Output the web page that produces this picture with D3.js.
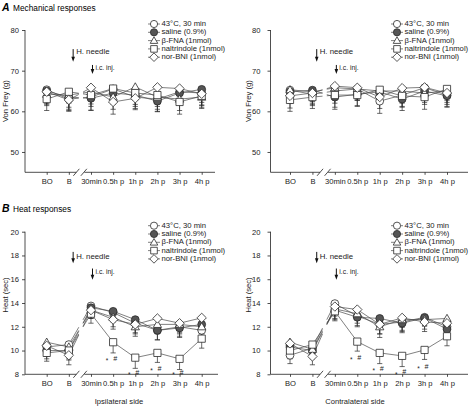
<!DOCTYPE html>
<html><head><meta charset="utf-8">
<script src="https://cdn.jsdelivr.net/npm/d3@7"></script>
<style>
html,body{margin:0;padding:0;background:#fff;}
svg{display:block;font-family:"Liberation Sans",Arial,sans-serif;}
</style></head>
<body>
<svg id="chart" width="469" height="406"></svg>
<script>
// ---------------- DATA ----------------
const categories = ["BO", "B", "30min", "0.5h p", "1h p", "2h p", "3h p", "4h p"];
const seriesNames = ["43°C, 30 min", "saline (0.9%)", "β-FNA (1nmol)", "naltrindole (1nmol)", "nor-BNI (1nmol)"];
const seriesSymbols = ["circle", "filledCircle", "triangle", "square", "diamond"];

// Mechanical responses, ipsilateral (Von Frey, g) – rows follow seriesNames
const mechIpsi = [
  [65.3, 63.0, 63.5, 65.5, 63.5, 63.0, 64.8, 64.5],
  [65.0, 63.5, 63.2, 64.5, 64.0, 62.5, 64.5, 65.4],
  [64.2, 64.0, 64.8, 63.5, 66.0, 63.5, 63.0, 63.5],
  [63.0, 64.8, 64.0, 65.6, 64.5, 64.0, 62.3, 63.8],
  [64.8, 62.8, 65.8, 62.3, 63.2, 65.9, 65.6, 64.3]
];
const mechIpsiErr = [
  [3.0, 2.8, 3.2, 3.0, 2.8, 3.0, 3.0, 3.0],
  [3.2, 3.0, 3.0, 2.8, 2.8, 2.6, 2.8, 3.2],
  [2.8, 3.0, 3.0, 3.0, 3.0, 3.0, 2.8, 2.8],
  [2.8, 2.8, 2.8, 3.0, 2.8, 2.8, 3.0, 2.8],
  [3.0, 2.8, 3.0, 3.0, 2.8, 3.0, 3.0, 2.8]
];
// Mechanical responses, contralateral
const mechContra = [
  [65.2, 64.2, 65.0, 65.5, 62.5, 64.0, 65.8, 64.0],
  [64.8, 65.2, 63.5, 64.2, 64.8, 63.0, 65.0, 63.8],
  [65.3, 64.8, 65.8, 65.5, 65.0, 65.0, 64.5, 65.0],
  [62.8, 63.5, 64.0, 64.0, 65.3, 63.8, 63.5, 65.5],
  [63.8, 64.5, 66.2, 65.8, 63.5, 65.7, 65.9, 64.5]
];
const mechContraErr = [
  [3.0, 2.8, 3.0, 2.8, 3.0, 2.8, 2.8, 2.8],
  [2.8, 2.8, 3.0, 2.8, 2.8, 2.8, 2.8, 2.8],
  [2.8, 2.8, 3.0, 2.8, 2.8, 3.0, 2.8, 2.8],
  [2.8, 2.8, 3.0, 2.8, 2.8, 2.8, 3.0, 2.8],
  [3.0, 2.8, 3.0, 2.8, 2.8, 3.0, 2.8, 2.8]
];
// Heat responses, ipsilateral (sec)
const heatIpsi = [
  [10.3, 10.5, 13.75, 13.2, 12.3, 11.7, 12.0, 11.7],
  [10.0, 10.0, 13.6, 13.3, 12.6, 11.7, 11.9, 12.2],
  [10.7, 10.3, 13.4, 12.8, 12.0, 12.2, 12.2, 12.0],
  [9.8, 10.0, 13.1, 10.7, 9.4, 9.8, 9.3, 11.0],
  [10.4, 9.6, 13.4, 12.6, 12.2, 12.7, 12.3, 12.75]
];
const heatIpsiErr = [
  [0.8, 0.7, 0.7, 0.8, 0.8, 0.8, 0.8, 0.7],
  [0.7, 0.7, 0.7, 0.8, 0.8, 0.8, 0.8, 0.7],
  [0.8, 0.8, 0.7, 0.8, 0.8, 0.8, 0.8, 0.7],
  [0.7, 0.8, 0.8, 0.9, 0.9, 0.8, 0.9, 0.8],
  [0.8, 0.8, 0.7, 0.8, 0.8, 0.8, 0.8, 0.7]
];
// Heat responses, contralateral
const heatContra = [
  [9.6, 10.2, 13.95, 12.9, 12.2, 12.4, 12.8, 12.0],
  [10.3, 10.0, 13.4, 12.8, 12.7, 12.3, 12.75, 11.8],
  [10.7, 10.1, 13.5, 13.1, 12.0, 12.6, 12.6, 12.7],
  [10.0, 10.5, 13.3, 10.75, 9.8, 9.55, 10.05, 11.2],
  [10.6, 9.5, 13.7, 13.45, 12.2, 12.75, 12.4, 12.3]
];
const heatContraErr = [
  [0.7, 0.7, 0.8, 0.8, 0.8, 0.8, 0.7, 0.7],
  [0.7, 0.7, 0.8, 0.8, 0.8, 0.8, 0.7, 0.7],
  [0.8, 0.7, 0.8, 0.8, 0.9, 0.9, 0.8, 0.8],
  [0.7, 0.8, 0.8, 0.8, 0.9, 0.9, 0.8, 0.8],
  [0.7, 0.7, 0.8, 0.8, 0.8, 0.8, 0.8, 0.8]
];
const mechTicks = [50, 60, 70, 80];
const heatTicks = [8, 10, 12, 14, 16, 18, 20];
// significance marks (* and #) for naltrindole vs saline
const sigCategories = ["0.5h p", "1h p", "2h p", "3h p"];
const sigIpsi = [9.15, 8.0, 8.35, 8.0];
const sigContra = [9.25, 8.3, 8.02, 8.5];

// ---------------- DRAW ----------------
const svg = d3.select("#chart");
const FONT = "Liberation Sans, Arial, sans-serif";
const LINE = "#4a4a4a", MARK = "#2a2a2a";

const panels = [
  {data: mechIpsi, err: mechIpsiErr, dom: [45, 80], ticks: mechTicks, ax: 25, axEnd: 215, xr: [46.7, 201.7], top: 30, bot: 172.3,
   ylab: "Von Frey (g)", ylx: 6, legY: 24, legX: 154, arrows: [[75.3, 72.2, 4.3, "H. needle", 74.6], [71.4, 69.2, 1.5, "i.c. inj.", 70.5]], tickPad: 3},
  {data: mechContra, err: mechContraErr, dom: [45, 80], ticks: mechTicks, ax: 270.5, axEnd: 468, xr: [290, 447], top: 30, bot: 172.3,
   ylab: "Von Frey (g)", ylx: 249, legY: 24, legX: 397, arrows: [[75.3, 72.2, 4.3, "H. needle", 74.6], [71.4, 69.2, 1.5, "i.c. inj.", 70.5]], tickPad: 7},
  {data: heatIpsi, err: heatIpsiErr, dom: [8, 20], ticks: heatTicks, ax: 25, axEnd: 218, xr: [46.7, 201.7], top: 231.7, bot: 374.3,
   ylab: "Heat (sec)", ylx: 6, legY: 225.7, legX: 154, arrows: [[18.3, 17.35, 4.3, "H. needle", 17.9], [16.9, 15.95, 1.5, "i.c. inj.", 16.6]], tickPad: 3,
   sig: sigIpsi, xlab: "Ipsilateral side", xlabX: 119},
  {data: heatContra, err: heatContraErr, dom: [8, 20], ticks: heatTicks, ax: 270.5, axEnd: 468, xr: [290, 447], top: 231.7, bot: 374.3,
   ylab: "Heat (sec)", ylx: 249, legY: 225.7, legX: 397, arrows: [[18.3, 17.35, 4.3, "H. needle", 17.9], [16.9, 15.95, 1.5, "i.c. inj.", 16.6]], tickPad: 7,
   sig: sigContra, xlab: "Contralateral side", xlabX: 355}
];

function symbolPath(type, s) {
  if (type === "square") return `M${-s},${-s}H${s}V${s}H${-s}Z`;
  if (type === "triangle") return `M0,${-s * 1.15}L${s * 1.15},${s * 0.85}L${-s * 1.15},${s * 0.85}Z`;
  if (type === "diamond") return `M0,${-s * 1.3}L${s * 1.3},0L0,${s * 1.3}L${-s * 1.3},0Z`;
  return null;
}
function drawMarker(g, type, x, y, size) {
  if (type === "circle" || type === "filledCircle") {
    g.append("circle").attr("cx", x).attr("cy", y).attr("r", size + 0.3)
      .attr("fill", type === "filledCircle" ? "#555" : "#fff").attr("stroke", MARK).attr("stroke-width", 0.8);
  } else {
    g.append("path").attr("d", symbolPath(type, size)).attr("transform", `translate(${x},${y})`)
      .attr("fill", "#fff").attr("stroke", MARK).attr("stroke-width", 0.8);
  }
}

// titles
svg.append("text").attr("x", 2).attr("y", 11).attr("font-size", 10.5).attr("font-style", "italic").attr("font-weight", "bold").attr("font-family", FONT).text("A");
svg.append("text").attr("x", 13).attr("y", 10.5).attr("font-size", 8.3).attr("font-family", FONT).text("Mechanical responses");
svg.append("text").attr("x", 2).attr("y", 212).attr("font-size", 10.5).attr("font-style", "italic").attr("font-weight", "bold").attr("font-family", FONT).text("B");
svg.append("text").attr("x", 13).attr("y", 211.5).attr("font-size", 8.3).attr("font-family", FONT).text("Heat responses");

panels.forEach(p => {
  const g = svg.append("g");
  const x = d3.scalePoint().domain(categories).range(p.xr);
  const y = d3.scaleLinear().domain(p.dom).range([p.bot, p.top]);
  const fontSize = 7.6;

  // y axis
  const yAxis = d3.axisLeft(y).tickValues(p.ticks).tickSize(3).tickPadding(p.tickPad);
  const ya = g.append("g").attr("transform", `translate(${p.ax},0)`).call(yAxis);
  ya.select(".domain").attr("d", `M-0,${p.top}V${p.bot}`).attr("stroke", "#222").attr("stroke-width", 0.8);
  ya.selectAll(".tick line").attr("stroke", "#222").attr("stroke-width", 0.8);
  ya.selectAll("text").attr("font-size", fontSize).attr("font-family", FONT).attr("fill", "#222");

  // x axis with break
  const xa = g.append("g").attr("transform", `translate(0,${p.bot})`).call(d3.axisBottom(x).tickSize(2.5).tickPadding(4));
  const bx = x("B") + (x("30min") - x("B")) * 0.52;
  xa.select(".domain").remove();
  xa.append("path").attr("d", `M${p.ax},0H${bx - 4}M${bx + 4},0H${p.axEnd}`).attr("stroke", "#222").attr("stroke-width", 0.8).attr("fill", "none");
  xa.append("path").attr("d", `M${bx - 7},3.5L${bx - 1},-3.5M${bx + 0.5},3.5L${bx + 6.5},-3.5`).attr("stroke", "#222").attr("stroke-width", 0.8);
  xa.selectAll(".tick line").attr("stroke", "#222").attr("stroke-width", 0.8);
  xa.selectAll("text").attr("font-size", fontSize).attr("font-family", FONT).attr("fill", "#222");

  // y label
  g.append("text").attr("transform", `translate(${p.ylx},${(p.top + p.bot) / 2 - (p.dom[0] === 8 ? 8 : 0)}) rotate(-90)`)
    .attr("text-anchor", "middle").attr("dominant-baseline", "middle").attr("font-size", fontSize).attr("font-family", FONT).attr("fill", "#222").text(p.ylab);

  if (p.xlab) {
    g.append("text").attr("x", p.xlabX).attr("y", 404).attr("text-anchor", "middle").attr("font-size", fontSize).attr("font-family", FONT).attr("fill", "#222").text(p.xlab);
  }

  // lines with break between B and 30min
  const f1 = 0.45, f2 = 0.64;
  p.data.forEach(vals => {
    const pts = vals.map((v, i) => [x(categories[i]), y(v)]);
    const line = d3.line();
    const pa = pts[1], pb = pts[2];
    const m1 = [pa[0] + (pb[0] - pa[0]) * f1, pa[1] + (pb[1] - pa[1]) * f1];
    const m2 = [pa[0] + (pb[0] - pa[0]) * f2, pa[1] + (pb[1] - pa[1]) * f2];
    [[pts[0], pts[1], m1], [m2, ...pts.slice(2)]].forEach(seg => {
      g.append("path").attr("d", line(seg)).attr("fill", "none").attr("stroke", LINE).attr("stroke-width", 0.7);
    });
  });
  // error bars
  p.data.forEach((vals, si) => {
    vals.forEach((v, i) => {
      const cx = x(categories[i]);
      const y0 = y(v), y1 = y(v - p.err[si][i]);
      g.append("line").attr("x1", cx).attr("x2", cx).attr("y1", y0).attr("y2", y1).attr("stroke", MARK).attr("stroke-width", 0.7);
      g.append("line").attr("x1", cx - 2.6).attr("x2", cx + 2.6).attr("y1", y1).attr("y2", y1).attr("stroke", MARK).attr("stroke-width", 0.7);
    });
  });
  // markers
  p.data.forEach((vals, si) => {
    vals.forEach((v, i) => drawMarker(g, seriesSymbols[si], x(categories[i]), y(v), 3.6));
  });

  // significance marks
  if (p.sig) {
    sigCategories.forEach((c, k) => {
      const cx = x(c);
      g.append("text").attr("x", cx - 6).attr("y", y(p.sig[k]) + 2.5).attr("text-anchor", "middle").attr("font-size", 6.5).attr("font-family", FONT).attr("fill", "#222").text("*");
      g.append("text").attr("x", cx + 2).attr("y", y(p.sig[k] + 0.18) + 2.5).attr("text-anchor", "middle").attr("font-size", 7).attr("font-style", "italic").attr("font-family", FONT).attr("fill", "#222").text("#");
    });
  }

  // arrows & annotations
  p.arrows.forEach(([from, to, dx, label, ty], k) => {
    const ax = (k === 0 ? x("B") : x("30min")) + dx;
    const yA = y(from), yB = y(to);
    g.append("line").attr("x1", ax).attr("x2", ax).attr("y1", yA).attr("y2", yB - 4).attr("stroke", "#111").attr("stroke-width", 1);
    g.append("path").attr("d", `M${ax - 1.8},${yB - 5}L${ax + 1.8},${yB - 5}L${ax},${yB}Z`).attr("fill", "#111");
    g.append("text").attr("x", ax + 3).attr("y", y(ty)).attr("dominant-baseline", "middle")
      .attr("font-size", k === 0 ? 7.8 : 6.8).attr("font-family", FONT).attr("fill", "#222").text(label);
  });

  // legend
  seriesNames.forEach((name, si) => {
    const ly = p.legY + si * 8.3;
    g.append("line").attr("x1", p.legX - 6).attr("x2", p.legX + 6).attr("y1", ly).attr("y2", ly).attr("stroke", LINE).attr("stroke-width", 0.7);
    drawMarker(g, seriesSymbols[si], p.legX, ly, 3.3);
    g.append("text").attr("x", p.legX + 7.5).attr("y", ly).attr("dominant-baseline", "middle").attr("font-size", 7.7).attr("font-family", FONT).attr("fill", "#222").text(name);
  });
});
</script>
</body></html>
